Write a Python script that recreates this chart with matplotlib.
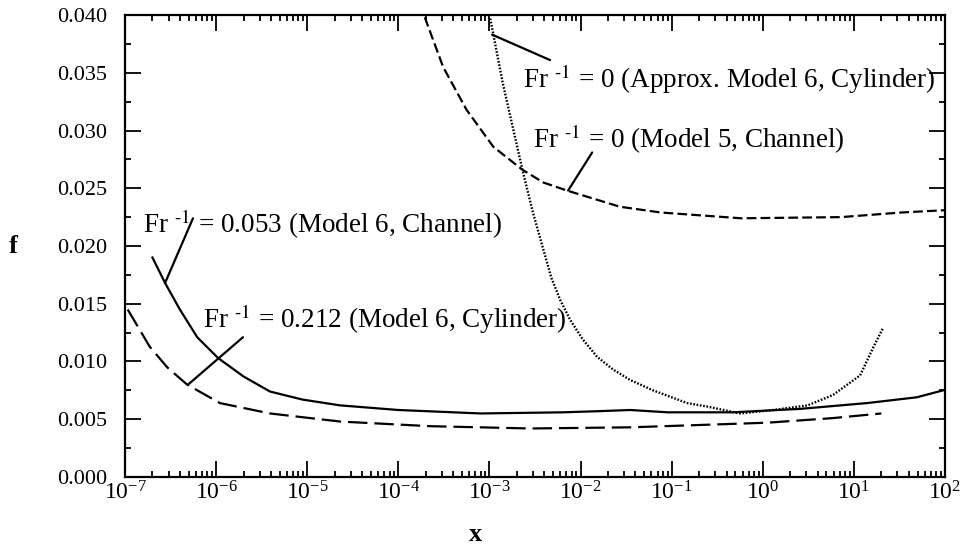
import matplotlib
matplotlib.use('Agg')
import matplotlib.pyplot as plt
from matplotlib.ticker import LogLocator, MultipleLocator, FormatStrFormatter

plt.rcParams['font.family'] = ['Liberation Serif', 'DejaVu Serif']
plt.rcParams['mathtext.fontset'] = 'stix'
plt.rcParams['lines.scale_dashes'] = False

# Fr^-1 = 0.053 (Model 6, Channel) - solid
x_ch053 = [2.0e-7, 2.75e-7, 4.0e-7, 6.2e-7, 1.05e-6, 2.0e-6, 3.9e-6, 8.9e-6, 2.3e-5,
           1.0e-4, 8.0e-4, 6.5e-3, 1.6e-2, 3.5e-2, 9.0e-2, 0.47, 2.6, 14.0, 49.0, 95.0]
f_ch053 = [0.0190, 0.0168, 0.0145, 0.0121, 0.0103, 0.0087, 0.0074, 0.0067, 0.0062,
           0.0058, 0.0055, 0.0056, 0.0057, 0.0058, 0.0056, 0.0056, 0.0059, 0.0064, 0.0069, 0.0075]

# Fr^-1 = 0.212 (Model 6, Cylinder) - long dashes
x_cy212 = [1.07e-7, 1.86e-7, 2.9e-7, 4.8e-7, 1.1e-6, 3.9e-6, 2.3e-5, 2.2e-4, 2.8e-3,
           3.5e-2, 0.2, 1.12, 5.9, 20.0]
f_cy212 = [0.0145, 0.0113, 0.0095, 0.0080, 0.0064, 0.0055, 0.0048, 0.0044, 0.0042,
           0.0043, 0.0045, 0.0047, 0.0051, 0.0055]

# Fr^-1 = 0 (Model 5, Channel) - medium dashes
x_ch5 = [1.95e-4, 3.1e-4, 5.6e-4, 1.1e-3, 2.3e-3, 3.9e-3, 7.1e-3, 2.7e-2, 7.6e-2,
         0.58, 7.2, 33.0, 100.0]
f_ch5 = [0.0398, 0.0355, 0.0318, 0.0286, 0.0266, 0.0255, 0.0248, 0.0234, 0.0229,
         0.0224, 0.0225, 0.0229, 0.0231]

# Fr^-1 = 0 (Approx. Model 6, Cylinder) - dotted
x_cyl0 = [1.02e-3, 1.4e-3, 1.8e-3, 2.3e-3, 3.0e-3, 3.9e-3, 4.8e-3, 6.0e-3, 7.7e-3,
          1.06e-2, 1.52e-2, 2.28e-2, 3.5e-2, 6.25e-2, 0.148, 0.245, 0.56, 1.3,
          3.1, 5.9, 11.7, 16.5, 20.9]
f_cyl0 = [0.0397, 0.0341, 0.0303, 0.0266, 0.0229, 0.0197, 0.0172, 0.0153, 0.0136,
          0.0119, 0.0104, 0.0093, 0.0084, 0.0075, 0.0064, 0.0061, 0.0055, 0.0058,
          0.0062, 0.0071, 0.0088, 0.0113, 0.0129]

fig = plt.figure(figsize=(9.64, 5.46), dpi=100)
ax = fig.add_axes([0.1297, 0.1264, 0.8506, 0.8461])

ax.plot(x_ch053, f_ch053, color='black', lw=1.6)
ax.plot(x_cy212, f_cy212, color='black', lw=1.6, dashes=(14, 5))
ax.plot(x_ch5, f_ch5, color='black', lw=1.6, dashes=(7, 3))
ax.plot(x_cyl0, f_cyl0, color='black', lw=1.7, dashes=(1.2, 1.2))

ax.set_xscale('log')
ax.set_xlim(1e-7, 1e2)
ax.set_ylim(0, 0.040)

ax.xaxis.set_major_locator(LogLocator(base=10, numticks=20))
ax.xaxis.set_minor_locator(LogLocator(base=10, subs=range(2, 10), numticks=20))
ax.yaxis.set_major_locator(MultipleLocator(0.005))
ax.yaxis.set_minor_locator(MultipleLocator(0.0025))
ax.yaxis.set_major_formatter(FormatStrFormatter('%.3f'))

ax.tick_params(which='both', direction='in', top=True, right=True, width=1.3)
ax.tick_params(which='major', length=11.5)
ax.tick_params(which='minor', length=4)
ax.tick_params(axis='y', pad=13, labelsize=16)
ax.tick_params(axis='x', pad=3, labelsize=17)
for sp in ax.spines.values():
    sp.set_linewidth(1.6)

ax.set_xlabel('x', fontsize=19, fontweight='bold', va='center')
ax.xaxis.set_label_coords(0.428, -0.125)
ax.set_ylabel('f', fontsize=19, fontweight='bold', rotation=0, va='center', ha='center')
ax.yaxis.set_label_coords(-0.137, 0.50)

# labels with leader lines
lab_kw = dict(fontsize=19.5, va='baseline', ha='left')
line_kw = dict(arrowprops=dict(arrowstyle='-', lw=1.6, color='black', shrinkA=0, shrinkB=0))

ax.text(2.34e-3, 0.0337, 'Fr $^{\\text{-}1}$ = 0 (Approx. Model 6, Cylinder)', **lab_kw)
ax.annotate('', xy=(1.07e-3, 0.0383), xytext=(4.62e-3, 0.0361), **line_kw)

ax.text(3.01e-3, 0.0285, 'Fr $^{\\text{-}1}$ = 0 (Model 5, Channel)', **lab_kw)
ax.annotate('', xy=(7.3e-3, 0.0248), xytext=(1.34e-2, 0.0281), **line_kw)

ax.text(1.58e-7, 0.0211, 'Fr $^{\\text{-}1}$ = 0.053 (Model 6, Channel)', **lab_kw)
ax.annotate('', xy=(2.75e-7, 0.0168), xytext=(5.57e-7, 0.0224), **line_kw)

ax.text(7.18e-7, 0.0129, 'Fr $^{\\text{-}1}$ = 0.212 (Model 6, Cylinder)', **lab_kw)
ax.annotate('', xy=(4.92e-7, 0.0080), xytext=(1.97e-6, 0.0121), **line_kw)

fig.savefig('out.png', dpi=100)
